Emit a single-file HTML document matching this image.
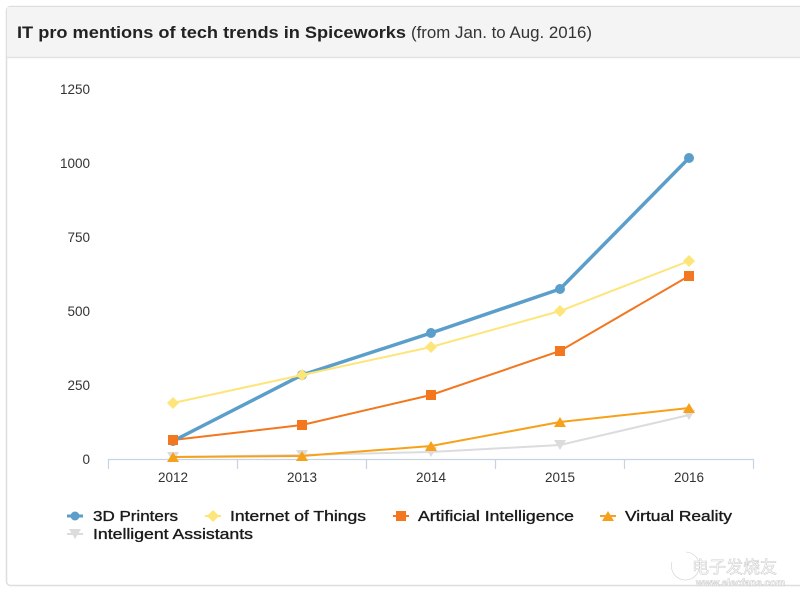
<!DOCTYPE html>
<html><head><meta charset="utf-8"><style>
html,body{margin:0;padding:0;background:#fff;width:800px;height:600px;overflow:hidden}
svg{display:block}
</style></head><body>
<svg width="800" height="600" viewBox="0 0 800 600" xmlns="http://www.w3.org/2000/svg" font-family="Liberation Sans, sans-serif">
<!-- card -->
<rect x="6.5" y="6.5" width="800" height="579" rx="4" fill="#fff" stroke="#dedede" stroke-width="1.5"/>
<rect x="7" y="7" width="800" height="50" fill="#f4f4f4"/>
<line x1="7" y1="57.5" x2="800" y2="57.5" stroke="#e2e2e2" stroke-width="1.5"/>
<text x="17" y="38" font-size="17" font-weight="bold" fill="#222" textLength="389" lengthAdjust="spacingAndGlyphs">IT pro mentions of tech trends in Spiceworks</text>
<text x="411" y="38" font-size="17" fill="#333" textLength="181" lengthAdjust="spacingAndGlyphs">(from Jan. to Aug. 2016)</text>

<!-- y labels -->
<g font-size="13.5" fill="#333" text-anchor="end">
<text x="90" y="94">1250</text>
<text x="90" y="168">1000</text>
<text x="90" y="242">750</text>
<text x="90" y="316">500</text>
<text x="90" y="390">250</text>
<text x="90" y="464">0</text>
</g>
<!-- x axis -->
<g stroke="#c6d3e2" stroke-width="1.2">
<line x1="108" y1="459.5" x2="754" y2="459.5"/>
<line x1="108.5" y1="459" x2="108.5" y2="469"/>
<line x1="237.5" y1="459" x2="237.5" y2="469"/>
<line x1="366.5" y1="459" x2="366.5" y2="469"/>
<line x1="495.5" y1="459" x2="495.5" y2="469"/>
<line x1="624.5" y1="459" x2="624.5" y2="469"/>
<line x1="753.5" y1="459" x2="753.5" y2="469"/>
</g>
<g font-size="13.5" fill="#333" text-anchor="middle">
<text x="173" y="482">2012</text>
<text x="302" y="482">2013</text>
<text x="431" y="482">2014</text>
<text x="560" y="482">2015</text>
<text x="689" y="482">2016</text>
</g>

<!-- Intelligent Assistants -->
<polyline points="173,457 302,455 431,452 560,445 689,415" fill="none" stroke="#dcdcdc" stroke-width="2"/>
<g fill="#dcdcdc">
<polygon points="167,452 179,452 173,462"/>
<polygon points="296,450 308,450 302,460"/>
<polygon points="425,447 437,447 431,457"/>
<polygon points="554,440 566,440 560,450"/>
<polygon points="683,410 695,410 689,420"/>
</g>
<!-- Virtual Reality -->
<polyline points="173,457 302,456 431,446 560,422 689,408" fill="none" stroke="#f7a11a" stroke-width="2"/>
<g fill="#f7a11a">
<polygon points="167,462 179,462 173,452"/>
<polygon points="296,461 308,461 302,451"/>
<polygon points="425,451 437,451 431,441"/>
<polygon points="554,427 566,427 560,417"/>
<polygon points="683,413 695,413 689,403"/>
</g>
<!-- Artificial Intelligence -->
<polyline points="173,440 302,425 431,395 560,351 689,276" fill="none" stroke="#f2771e" stroke-width="2"/>
<g fill="#f2771e">
<rect x="168" y="435" width="10" height="10"/>
<rect x="297" y="420" width="10" height="10"/>
<rect x="426" y="390" width="10" height="10"/>
<rect x="555" y="346" width="10" height="10"/>
<rect x="684" y="271" width="10" height="10"/>
</g>
<!-- 3D Printers -->
<polyline points="173,441 302,375 431,333 560,289 689,158" fill="none" stroke="#5a9ec9" stroke-width="3.5" stroke-linejoin="round"/>
<g fill="#5a9ec9">
<circle cx="173" cy="441" r="5"/>
<circle cx="302" cy="375" r="5"/>
<circle cx="431" cy="333" r="5"/>
<circle cx="560" cy="289" r="5"/>
<circle cx="689" cy="158" r="5"/>
</g>
<!-- Internet of Things -->
<polyline points="173,403 302,375 431,347 560,311 689,261" fill="none" stroke="#fde57a" stroke-width="2"/>
<g fill="#fde57a">
<polygon points="173,397 179,403 173,409 167,403"/>
<polygon points="302,369 308,375 302,381 296,375"/>
<polygon points="431,341 437,347 431,353 425,347"/>
<polygon points="560,305 566,311 560,317 554,311"/>
<polygon points="689,255 695,261 689,267 683,261"/>
</g>
<rect x="168" y="435" width="10" height="10" fill="#f2771e"/>

<!-- legend -->
<g font-size="14.5" fill="#1a1a1a" stroke="#1a1a1a" stroke-width="0.35">
<text x="93" y="521" textLength="85" lengthAdjust="spacingAndGlyphs">3D Printers</text>
<text x="230" y="521" textLength="136" lengthAdjust="spacingAndGlyphs">Internet of Things</text>
<text x="418" y="521" textLength="156" lengthAdjust="spacingAndGlyphs">Artificial Intelligence</text>
<text x="625" y="521" textLength="107" lengthAdjust="spacingAndGlyphs">Virtual Reality</text>
<text x="93" y="539" textLength="160" lengthAdjust="spacingAndGlyphs">Intelligent Assistants</text>
</g>
<line x1="67" y1="516" x2="83" y2="516" stroke="#5a9ec9" stroke-width="3"/>
<circle cx="75" cy="516" r="4.5" fill="#5a9ec9"/>
<line x1="205" y1="516" x2="221" y2="516" stroke="#fde57a" stroke-width="2"/>
<polygon points="213,510 219,516 213,522 207,516" fill="#fde57a"/>
<line x1="393" y1="516" x2="409" y2="516" stroke="#f2771e" stroke-width="2"/>
<rect x="396" y="511" width="10" height="10" fill="#f2771e"/>
<line x1="600" y1="516" x2="616" y2="516" stroke="#f7a11a" stroke-width="2"/>
<polygon points="602,521 614,521 608,511" fill="#f7a11a"/>
<line x1="67" y1="534" x2="83" y2="534" stroke="#dcdcdc" stroke-width="2"/>
<polygon points="69,529 81,529 75,539" fill="#dcdcdc"/>

<!-- watermark -->
<g fill="#fff" stroke="#cfcfcf" stroke-width="0.6">
<path d="M672,562 a14,14 0 1,0 14,-10" fill="none"/>
<text x="692" y="573" font-size="17" font-family="Noto Sans CJK SC, sans-serif">电子发烧友</text>
<text x="696" y="586" font-size="10" font-weight="bold">www.elecfans.com</text>
</g>
</svg>
</body></html>
